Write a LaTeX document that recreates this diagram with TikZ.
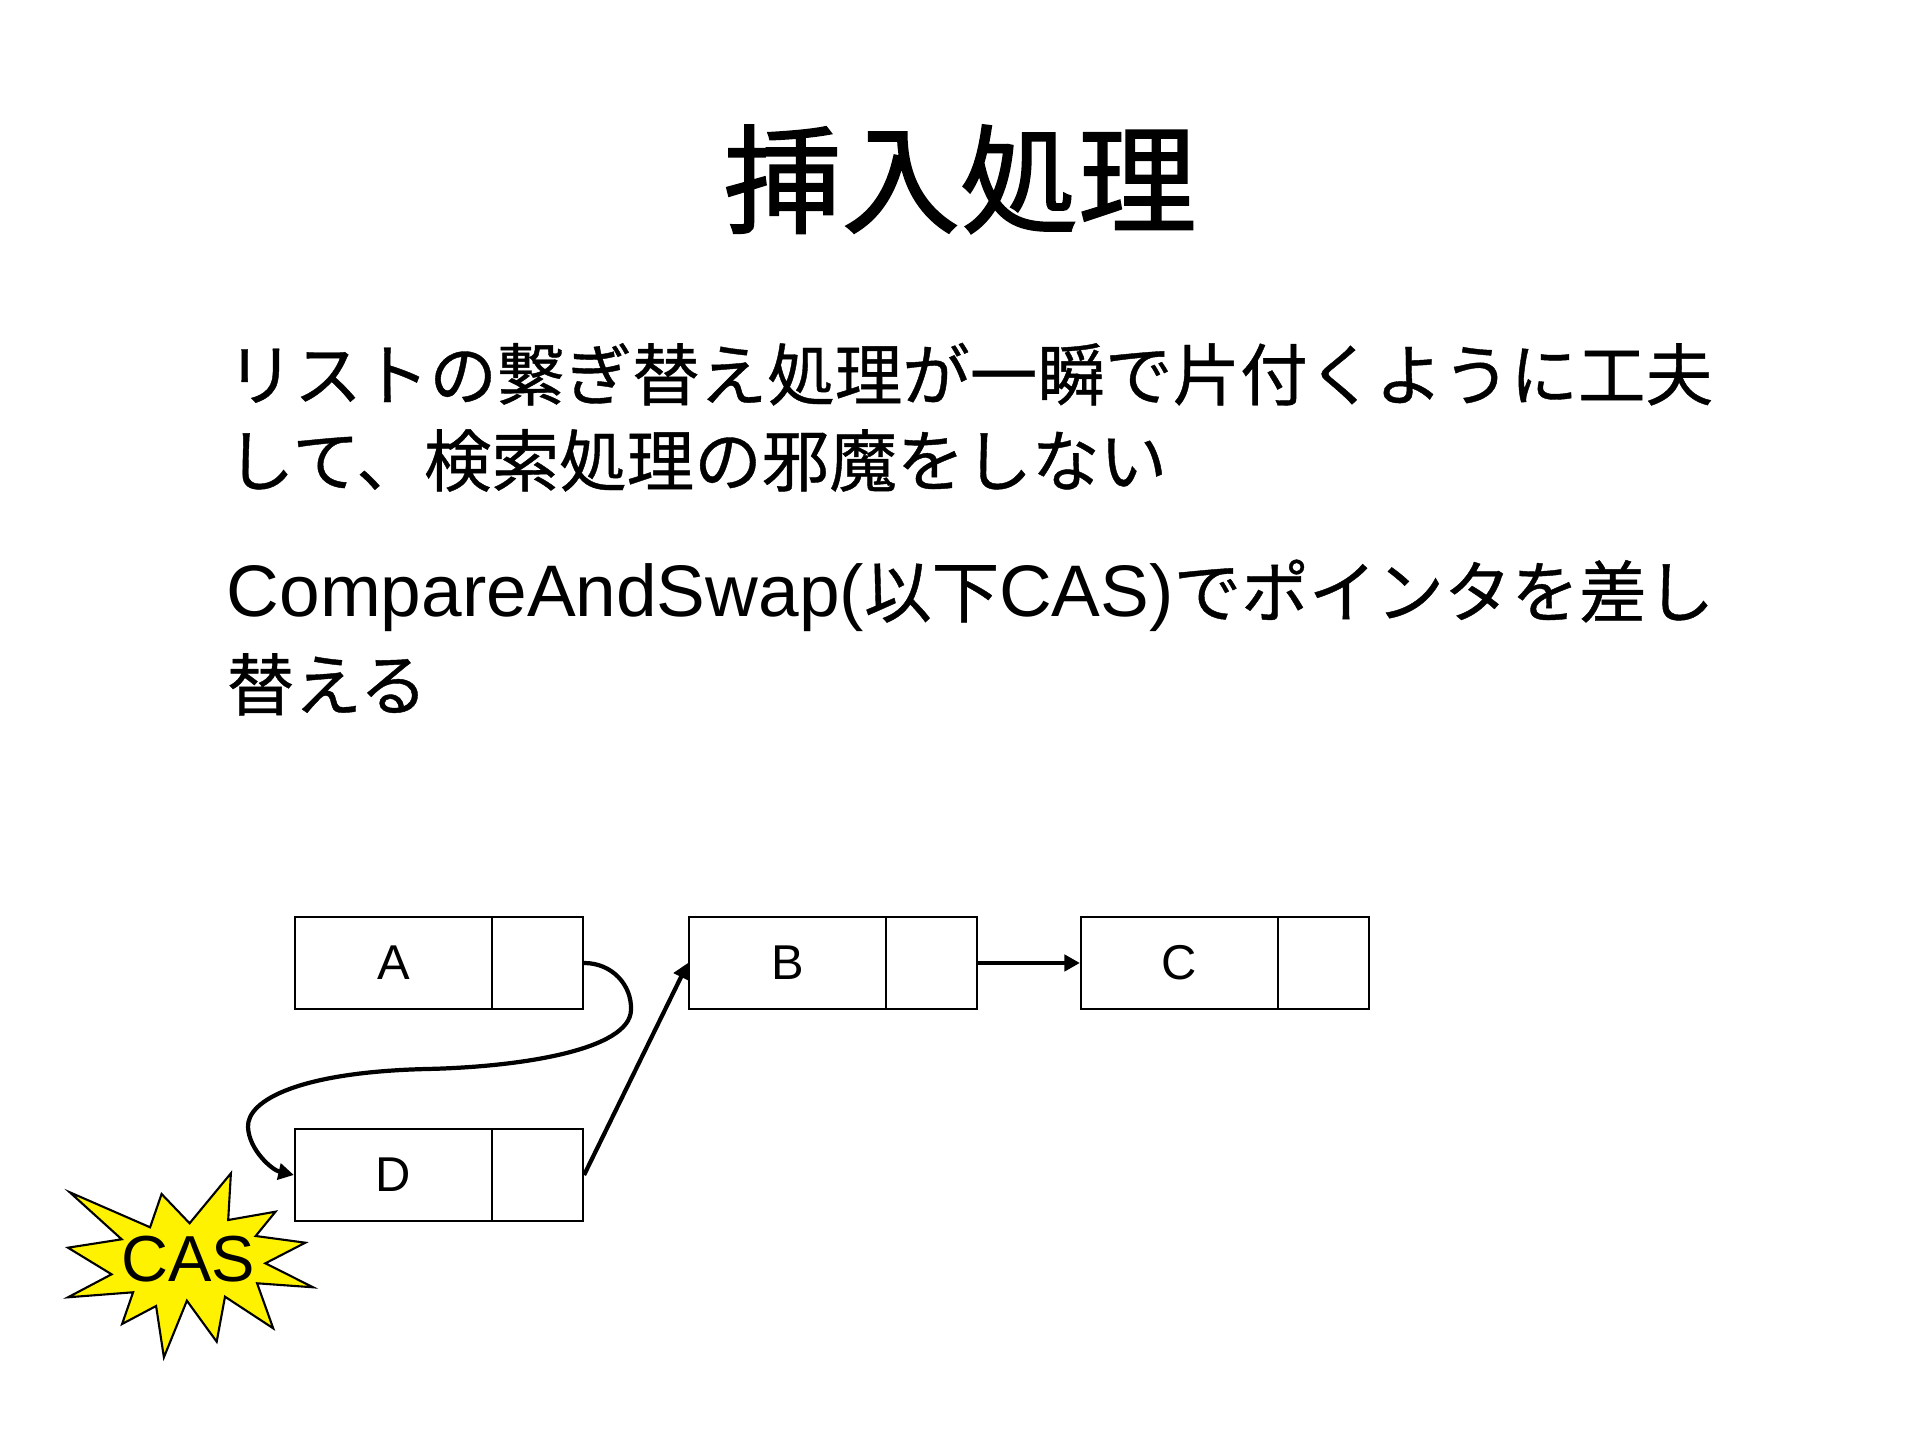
\documentclass[tikz,border=0pt]{standalone}
\usepackage{fontspec}
\setmainfont{Liberation Sans}
\newfontfamily\cjk[Scale=0.925,FakeBold=0.6]{Noto Sans CJK JP}
\newfontfamily\cjktitle[FakeBold=1.4]{Noto Sans CJK JP}
\usetikzlibrary{arrows.meta}
\tikzset{
  valbox/.style={draw=black, line width=0.6pt, minimum width=1.97cm, minimum height=0.92cm, inner sep=0pt, font=\fontsize{13.9}{16}\selectfont},
  ptrbox/.style={draw=black, line width=0.6pt, minimum width=0.91cm, minimum height=0.92cm, inner sep=0pt},
  link/.style={line width=1.2pt, -{Triangle[length=4.4pt,width=4.6pt]}},
  bodytext/.style={anchor=base west, inner sep=0pt, font=\fontsize{20.77}{25}\selectfont},
  titletext/.style={anchor=base, inner sep=0pt, font=\fontsize{33.6}{40}\cjktitle},
  burst/.style={draw=black, line width=0.6pt, fill=yellow, line join=miter},
  burstlabel/.style={inner sep=0pt, font=\fontsize{18.5}{22}\selectfont}
}
\begin{document}
\begin{tikzpicture}[x=0.01cm, y=-0.01cm]
\useasboundingbox (0,0) rectangle (1920,1440);
\fill[white] (0,0) rectangle (1920,1440);

% title
\node[titletext] (title) at (960,224) {挿入処理};

% body text
\node[bodytext] (t1) at (226,400) {\cjk リストの繋ぎ替え処理が一瞬で片付くように工夫};
\node[bodytext] (t2) at (226,486) {\cjk して、検索処理の邪魔をしない};
\node[bodytext] (t3) at (226,617) {CompareAndSwap({\cjk 以下}CAS){\cjk でポインタを差し}};
\node[bodytext] (t4) at (226,710) {\cjk 替える};

% list nodes
\node[valbox] (A) at (393.5,963) {A};
\node[ptrbox] (Ap) at (537.5,963) {};
\node[valbox] (B) at (787.5,963) {B};
\node[ptrbox] (Bp) at (931.5,963) {};
\node[valbox] (C) at (1179.5,963) {C};
\node[ptrbox] (Cp) at (1323.5,963) {};
\node[valbox] (D) at (393.5,1175) {D};
\node[ptrbox] (Dp) at (537.5,1175) {};

% connectors
\draw[link] (Bp.east) -- (C.west);
\draw[link] (Dp.east) -- (B.west);
\draw[link] (Ap.east) .. controls (612,963) and (632,985) .. (631,1010)
  .. controls (630,1050) and (520,1067) .. (427,1069)
  .. controls (300,1072) and (247,1100) .. (248,1127)
  .. controls (249,1150) and (272,1170) .. (D.west);

% CAS burst
\draw[burst] (69.8,1192.3) -- (150.1,1227.3) -- (161.6,1194) -- (189.6,1223.3) -- (230.9,1173.3) -- (228.2,1220) -- (275.5,1211.7) -- (255.7,1236) -- (305.3,1242.7) -- (265.4,1263.3) -- (313.1,1287.3) -- (257.1,1283.3) -- (273.2,1328.3) -- (225,1296.7) -- (216.7,1341.7) -- (186.9,1300.7) -- (163.9,1357.3) -- (156.1,1306) -- (122.1,1324) -- (133.1,1292.3) -- (68,1297.3) -- (111.6,1274.3) -- (68,1247.7) -- (121.7,1239.3) -- cycle;
\node[burstlabel] (cas) at (188.5,1259) {CAS};
\end{tikzpicture}
\end{document}
